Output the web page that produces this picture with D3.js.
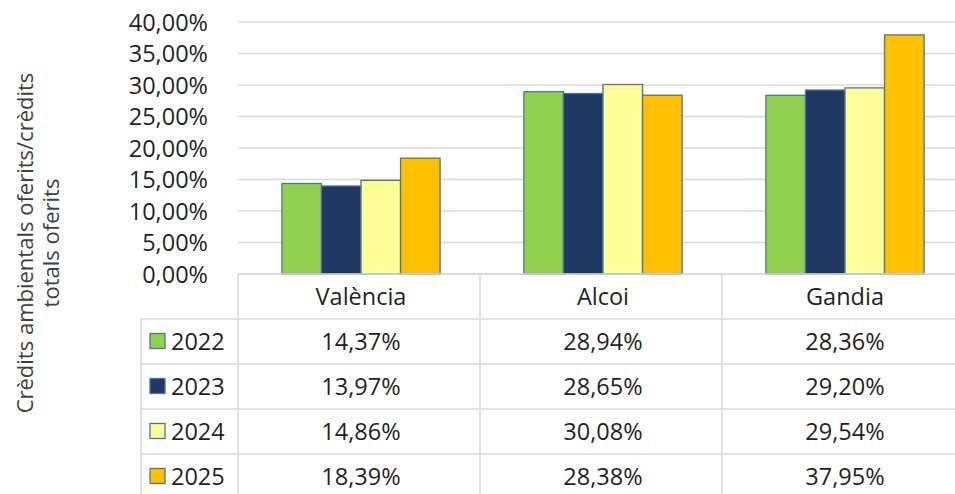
<!DOCTYPE html>
<html>
<head>
<meta charset="utf-8">
<script src="https://cdn.jsdelivr.net/npm/d3@7"></script>
<style>
    body { margin: 0; background: #fff; }
    svg { display: block; font-family: "Open Sans", sans-serif; }
</style>
</head>
<body>
<svg id="chart"></svg>
<script>
// chart data
var categories = ["València", "Alcoi", "Gandia"];
var years = ["2022", "2023", "2024", "2025"];
var values2022 = [14.37, 28.94, 28.36];
var values2023 = [13.97, 28.65, 29.20];
var values2024 = [14.86, 30.08, 29.54];
var values2025 = [18.39, 28.38, 37.95];
var yTicks = [0, 5, 10, 15, 20, 25, 30, 35, 40];
var colors = ["#92d050", "#1f3864", "#ffff99", "#ffc000"];

var series = [values2022, values2023, values2024, values2025];

var width = 955, height = 494;
var margin = { top: 22, left: 240, right: -11 };
var plotBottom = 274;
var rowH = 45;

var svg = d3.select("#chart")
    .attr("width", width)
    .attr("height", height);

var x = d3.scaleBand()
    .domain(categories)
    .range([margin.left, width - margin.right])
    .paddingInner(0)
    .paddingOuter(0);

var xInner = d3.scaleBand()
    .domain(years)
    .range([0, x.bandwidth()])
    .paddingInner(0)
    .paddingOuter(1.06);

var y = d3.scaleLinear()
    .domain([0, 40])
    .range([plotBottom, margin.top]);

var fmt = function (v) {
    return v.toFixed(2).replace(".", ",") + "%";
};

// gridlines
svg.append("g")
    .selectAll("line")
    .data(yTicks)
    .enter().append("line")
    .attr("x1", margin.left - 2)
    .attr("x2", width)
    .attr("y1", function (d) { return y(d); })
    .attr("y2", function (d) { return y(d); })
    .attr("stroke", "#d9d9d9")
    .attr("stroke-width", 1.5);

// y axis labels
var yAxis = svg.append("g")
    .attr("transform", "translate(" + (margin.left - 29) + ",0)")
    .call(d3.axisLeft(y).tickValues(yTicks).tickSize(0).tickFormat(function (d) {
        return d.toFixed(2).replace(".", ",") + "%";
    }));
yAxis.select(".domain").remove();
yAxis.selectAll("text")
    .attr("font-family", "Open Sans, sans-serif")
    .attr("font-size", "23.5px")
    .attr("fill", "#1f1f1f")
    .attr("dx", "0")
    .attr("dy", "0.36em");

// bars
var groups = svg.append("g")
    .selectAll("g")
    .data(years)
    .enter().append("g")
    .attr("fill", function (d, i) { return colors[i]; });

groups.selectAll("rect")
    .data(function (yr, i) {
        return categories.map(function (c, j) {
            return { cat: c, year: yr, value: series[i][j] };
        });
    })
    .enter().append("rect")
    .attr("x", function (d) { return x(d.cat) + xInner(d.year); })
    .attr("y", function (d) { return y(d.value); })
    .attr("width", xInner.bandwidth())
    .attr("height", function (d) { return y(0) - y(d.value); })
    .attr("stroke", "#4f7391")
    .attr("stroke-width", 1.3);

// data table
var rows = d3.scaleBand()
    .domain(["header"].concat(years))
    .range([plotBottom, plotBottom + rowH * 5]);

var legendLeft = 141;
var table = svg.append("g")
    .attr("stroke", "#d9d9d9")
    .attr("stroke-width", 1.5);

// horizontal lines
table.append("line")
    .attr("x1", margin.left - 2).attr("x2", width)
    .attr("y1", plotBottom).attr("y2", plotBottom);
table.selectAll(".hline")
    .data(years)
    .enter().append("line")
    .attr("class", "hline")
    .attr("x1", legendLeft).attr("x2", width)
    .attr("y1", function (d) { return rows(d); })
    .attr("y2", function (d) { return rows(d); });

// vertical lines
table.selectAll(".vline")
    .data(categories)
    .enter().append("line")
    .attr("class", "vline")
    .attr("x1", function (d) { return x(d) - 2; })
    .attr("x2", function (d) { return x(d) - 2; })
    .attr("y1", plotBottom)
    .attr("y2", height);
table.append("line")
    .attr("x1", legendLeft).attr("x2", legendLeft)
    .attr("y1", rows(years[0])).attr("y2", height);

// header labels
svg.append("g")
    .selectAll("text")
    .data(categories)
    .enter().append("text")
    .attr("x", function (d) { return x(d) + x.bandwidth() / 2; })
    .attr("y", rows("header") + rows.bandwidth() / 2)
    .attr("dy", "0.36em")
    .attr("text-anchor", "middle")
    .attr("font-size", "23.5px")
    .attr("fill", "#1f1f1f")
    .text(function (d) { return d; });

// legend keys and year labels
var legendRows = svg.append("g")
    .selectAll("g")
    .data(years)
    .enter().append("g")
    .attr("transform", function (d) {
        return "translate(0," + (rows(d) + rows.bandwidth() / 2) + ")";
    });

legendRows.append("rect")
    .attr("x", 150)
    .attr("y", -8)
    .attr("width", 15)
    .attr("height", 15)
    .attr("fill", function (d, i) { return colors[i]; })
    .attr("stroke", "#4f7391")
    .attr("stroke-width", 1.3);

legendRows.append("text")
    .attr("x", 171)
    .attr("dy", "0.36em")
    .attr("font-size", "23.5px")
    .attr("fill", "#1f1f1f")
    .text(function (d) { return d; });

// table values
legendRows.selectAll(".val")
    .data(function (yr, i) {
        return categories.map(function (c, j) { return { cat: c, value: series[i][j] }; });
    })
    .enter().append("text")
    .attr("class", "val")
    .attr("x", function (d) { return x(d.cat) + x.bandwidth() / 2; })
    .attr("dy", "0.36em")
    .attr("text-anchor", "middle")
    .attr("font-size", "23.5px")
    .attr("fill", "#1f1f1f")
    .text(function (d) { return fmt(d.value); });

// y axis title
var title = svg.append("text")
    .attr("transform", "translate(25,243) rotate(-90)")
    .attr("text-anchor", "middle")
    .attr("font-size", "22px")
    .attr("fill", "#404040");
title.append("tspan")
    .attr("x", 0).attr("dy", "0.36em")
    .text("Crèdits ambientals oferits/crèdits");
title.append("tspan")
    .attr("x", 0).attr("dy", "26px")
    .text("totals oferits");
</script>
</body>
</html>
